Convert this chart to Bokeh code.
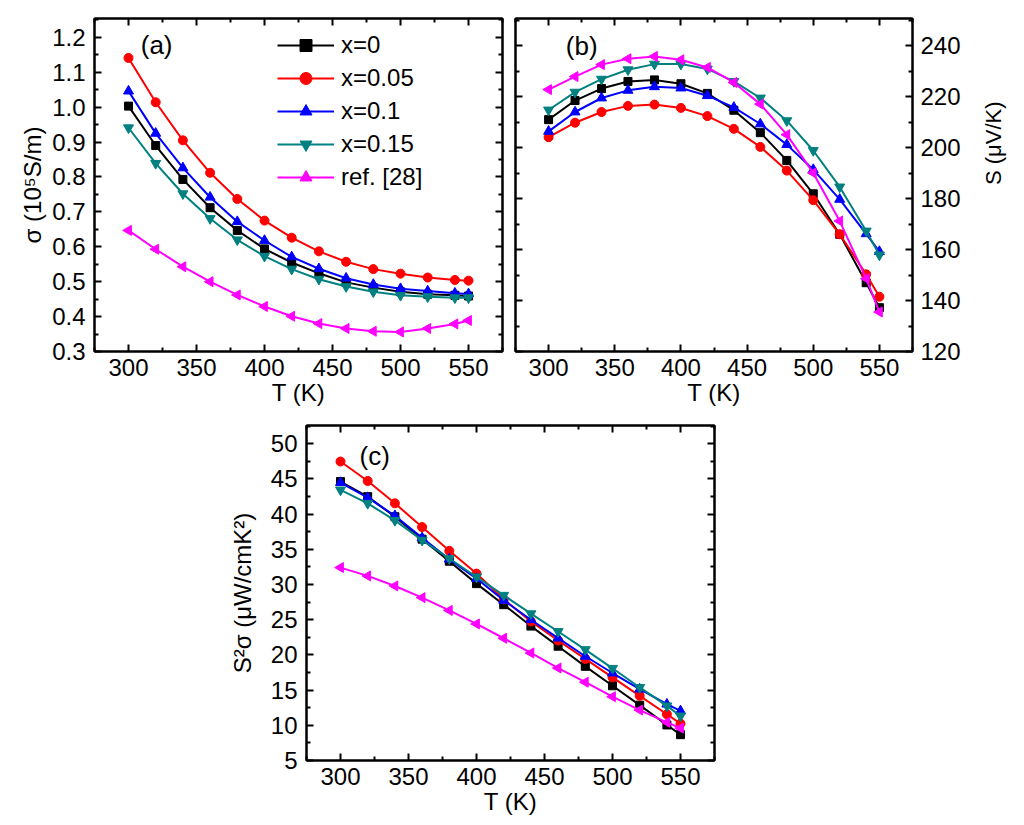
import math
from bokeh.plotting import figure
from bokeh.layouts import column, row, Spacer
from bokeh.models import (Range1d, LinearAxis, Label, Legend, LegendItem, FixedTicker,
                          NumeralTickFormatter, ColumnDataSource)
from bokeh.embed import file_html
from bokeh.resources import INLINE

# ---------------- data ----------------
T = [300, 320, 340, 360, 380, 400, 420, 440, 460, 480, 500, 520, 540, 550]
series_labels = ["x=0", "x=0.05", "x=0.1", "x=0.15", "ref. [28]"]

# (a) electrical conductivity, 10^5 S/m
sigma_x0 = [1.003, 0.890, 0.793, 0.712, 0.647, 0.594, 0.555, 0.524, 0.498, 0.483, 0.471, 0.464, 0.461, 0.459]
sigma_x005 = [1.141, 1.014, 0.905, 0.812, 0.737, 0.675, 0.626, 0.587, 0.557, 0.536, 0.523, 0.512, 0.505, 0.503]
sigma_x01 = [1.046, 0.925, 0.826, 0.742, 0.672, 0.618, 0.571, 0.537, 0.510, 0.492, 0.480, 0.473, 0.467, 0.465]
sigma_x015 = [0.941, 0.839, 0.752, 0.681, 0.620, 0.573, 0.536, 0.507, 0.486, 0.471, 0.461, 0.457, 0.454, 0.454]
sigma_ref = [0.647, 0.593, 0.543, 0.500, 0.462, 0.429, 0.401, 0.380, 0.366, 0.358, 0.356, 0.366, 0.379, 0.389]

# (b) Seebeck coefficient, uV/K
S_x0 = [211.0, 218.5, 223.2, 226.0, 226.6, 225.1, 221.3, 214.7, 205.9, 195.0, 181.9, 166.0, 147.0, 137.2]
S_x005 = [204.1, 209.8, 214.0, 216.4, 216.9, 215.6, 212.4, 207.4, 200.3, 191.0, 179.4, 166.0, 150.3, 141.5]
S_x01 = [206.4, 214.0, 219.5, 222.5, 223.9, 223.4, 220.4, 215.8, 209.3, 201.2, 191.4, 179.7, 166.2, 159.2]
S_x015 = [214.8, 221.8, 226.9, 230.6, 232.8, 232.8, 230.9, 226.0, 219.5, 210.6, 198.9, 184.6, 167.3, 157.9]
S_ref = [222.8, 227.9, 232.6, 234.9, 235.8, 234.5, 231.5, 225.6, 217.1, 205.1, 190.1, 171.2, 148.6, 135.5]

# (c) power factor, uW/cmK^2
PF_x0 = [44.63, 42.49, 39.64, 36.45, 33.32, 30.13, 27.14, 24.10, 21.24, 18.38, 15.62, 12.86, 10.05, 8.67]
PF_x005 = [47.48, 44.72, 41.54, 38.17, 34.79, 31.56, 27.90, 24.76, 22.05, 19.43, 16.81, 14.19, 11.57, 10.24]
PF_x01 = [44.49, 42.35, 39.78, 36.64, 33.60, 30.85, 27.76, 25.00, 22.38, 19.81, 17.43, 15.14, 13.00, 12.05]
PF_x015 = [43.44, 41.54, 39.12, 36.31, 33.70, 31.08, 28.48, 25.86, 23.33, 20.76, 18.10, 15.38, 12.76, 11.33]
PF_ref = [32.41, 31.23, 29.80, 28.14, 26.33, 24.40, 22.37, 20.28, 18.14, 16.13, 14.07, 12.16, 10.42, 9.60]

x_ticks = [300, 350, 400, 450, 500, 550]
x_minor = [275, 325, 375, 425, 475, 525, 575]
a_ticks = [0.3, 0.4, 0.5, 0.6, 0.7, 0.8, 0.9, 1.0, 1.1, 1.2]
a_minor = [0.35, 0.45, 0.55, 0.65, 0.75, 0.85, 0.95, 1.05, 1.15, 1.25]
b_ticks = [120, 140, 160, 180, 200, 220, 240]
b_minor = [130, 150, 170, 190, 210, 230, 250]
c_ticks = [5, 10, 15, 20, 25, 30, 35, 40, 45, 50]
c_minor = [7.5, 12.5, 17.5, 22.5, 27.5, 32.5, 37.5, 42.5, 47.5, 52.5]

# ---------------- style ----------------
FONT = "Liberation Sans"
FS = "24px"
colors = ["#000000", "#FF0000", "#0000FF", "#008080", "#FF00FF"]
markers = ["square", "circle", "triangle", "inverted_triangle", "triangle"]
angles = [0, 0, 0, 0, math.pi / 2]
msizes = [8, 9, 10, 10, 10]


def style_axis(ax, major, minor, labeled, fmt=None):
    ax.ticker = FixedTicker(ticks=major, minor_ticks=minor)
    ax.axis_line_width = 2
    ax.axis_line_color = "black"
    ax.major_tick_in = 7
    ax.major_tick_out = 0
    ax.minor_tick_in = 4
    ax.minor_tick_out = 0
    ax.major_tick_line_width = 2
    ax.minor_tick_line_width = 2
    ax.major_tick_line_color = "black"
    ax.minor_tick_line_color = "black"
    ax.major_label_text_font = FONT
    ax.major_label_text_color = "black"
    ax.axis_label_text_font = FONT
    ax.axis_label_text_font_size = FS
    ax.axis_label_text_font_style = "normal"
    ax.axis_label_text_color = "black"
    if labeled:
        ax.major_label_text_font_size = FS
        ax.major_label_standoff = 9
        if fmt is not None:
            ax.formatter = fmt
    else:
        ax.major_label_text_font_size = "1px"
        ax.major_label_standoff = 0
        ax.major_label_overrides = {t: "" for t in major}


def make_fig(yr, yticks, yminor, yfmt, ylabel, yside, borders, fw, fh, ylab_standoff):
    l, r, t, b = borders
    p = figure(width=l + fw + r, height=t + fh + b,
               x_range=Range1d(275, 575), y_range=Range1d(*yr),
               x_axis_location=None, y_axis_location=None,
               output_backend="svg", toolbar_location=None,
               min_border_left=l, min_border_right=r, min_border_top=t, min_border_bottom=b)
    p.outline_line_color = "black"
    p.outline_line_width = 2
    p.background_fill_color = "white"
    p.border_fill_color = "white"
    p.grid.grid_line_color = None
    p.xgrid.visible = False
    p.ygrid.visible = False
    xb = LinearAxis(axis_label="T (K)")
    style_axis(xb, x_ticks, x_minor, True)
    xb.major_label_standoff = 7
    xb.axis_label_standoff = 0
    p.add_layout(xb, "below")
    xt = LinearAxis()
    style_axis(xt, x_ticks, x_minor, False)
    p.add_layout(xt, "above")
    yl = LinearAxis(axis_label=ylabel if yside == "left" else None)
    style_axis(yl, yticks, yminor, yside == "left", yfmt)
    yl.axis_label_standoff = ylab_standoff
    p.add_layout(yl, "left")
    yr_ax = LinearAxis(axis_label=ylabel if yside == "right" else None)
    style_axis(yr_ax, yticks, yminor, yside == "right", yfmt)
    if yside == "right":
        yr_ax.major_label_standoff = 8
        yr_ax.axis_label_standoff = 30
        yr_ax.axis_label_text_font_size = "22px"
        if "axis_label_orientation" in LinearAxis.properties():
            yr_ax.axis_label_orientation = math.pi / 2
    p.add_layout(yr_ax, "right")
    return p


def plot_series(p, ys_list):
    rends = []
    for ys, c, m, a, s in zip(ys_list, colors, markers, angles, msizes):
        src = ColumnDataSource(dict(x=T, y=ys))
        lr = p.line("x", "y", source=src, line_color=c, line_width=2)
        sr = p.scatter("x", "y", source=src, marker=m, angle=a, size=s,
                       fill_color=c, line_color=c)
        rends.append((lr, sr))
    return rends


# ---------------- panel (a) ----------------
pa = make_fig((0.3, 1.254), a_ticks, a_minor, NumeralTickFormatter(format="0.0"),
              "σ (10⁵S/m)", "left", (94, 6, 18, 70), 408, 333, 3)
ra = plot_series(pa, [sigma_x0, sigma_x005, sigma_x01, sigma_x015, sigma_ref])
items = [LegendItem(label=lab, renderers=[lr, sr]) for lab, (lr, sr) in zip(series_labels, ra)]
leg = Legend(items=items, location=(183, 159), orientation="vertical",
             border_line_color=None, background_fill_alpha=0,
             label_text_font=FONT, label_text_font_size=FS, label_text_color="black",
             glyph_width=57, glyph_height=30, label_height=30, spacing=3,
             padding=0, margin=0, label_standoff=7)
pa.add_layout(leg)
pa.add_layout(Label(x=309, y=1.177, text="(a)", text_font=FONT, text_font_size="26px",
                    text_baseline="middle", text_align="left", text_color="black"))

# ---------------- panel (b) ----------------
pb = make_fig((120, 250.7), b_ticks, b_minor, None, "S (μV/K)", "right", (7, 97, 18, 70), 409, 333, 3)
plot_series(pb, [S_x0, S_x005, S_x01, S_x015, S_ref])
pb.add_layout(Label(x=313, y=240, text="(b)", text_font=FONT, text_font_size="26px",
                    text_baseline="middle", text_align="left", text_color="black"))

# ---------------- panel (c) ----------------
pc = make_fig((5, 52.6), c_ticks, c_minor, None, "S²σ (μW/cmK²)", "left", (92, 6, 4, 64), 408, 335, 12)
plot_series(pc, [PF_x0, PF_x005, PF_x01, PF_x015, PF_ref])
pc.add_layout(Label(x=314, y=48.3, text="(c)", text_font=FONT, text_font_size="26px",
                    text_baseline="middle", text_align="left", text_color="black"))

layout = column(row(pa, pb), row(Spacer(width=214, height=10), pc))

open("out.html", "w").write(file_html(layout, INLINE))
